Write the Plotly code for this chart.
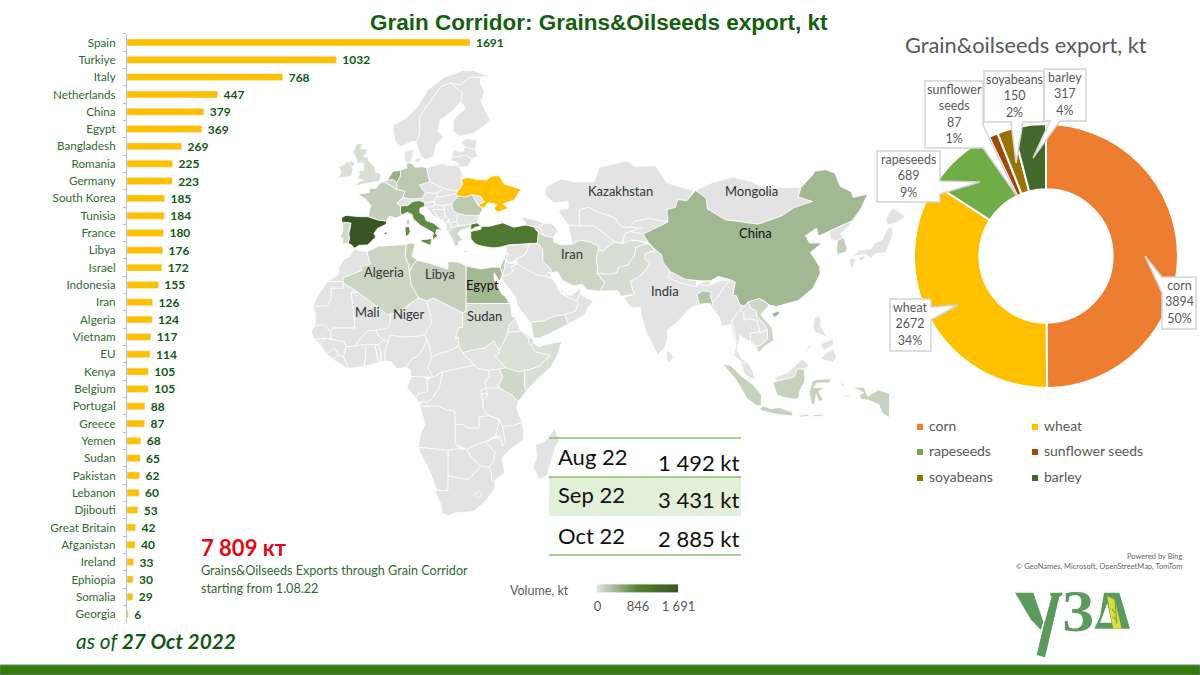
import math
import plotly.graph_objects as go
from plotly.colors import sample_colorscale

# ---- chart data -------------------------------------------------------------
destinations = ["Spain", "Turkiye", "Italy", "Netherlands", "China", "Egypt", "Bangladesh", "Romania",
                "Germany", "South Korea", "Tunisia", "France", "Libya", "Israel", "Indonesia", "Iran",
                "Algeria", "Vietnam", "EU", "Kenya", "Belgium", "Portugal", "Greece", "Yemen", "Sudan",
                "Pakistan", "Lebanon", "Djibouti", "Great Britain", "Afganistan", "Ireland", "Ephiopia",
                "Somalia", "Georgia"]
export_kt = [1691, 1032, 768, 447, 379, 369, 269, 225, 223, 185, 184, 180, 176, 172, 155, 126, 124, 117,
             114, 105, 105, 88, 87, 68, 65, 62, 60, 53, 42, 40, 33, 30, 29, 6]

crops = ["corn", "wheat", "rapeseeds", "sunflower seeds", "soyabeans", "barley"]
crop_kt = [3894, 2672, 689, 87, 150, 317]
crop_colors = ["#ED7D31", "#FFC000", "#70AD47", "#9E480E", "#997300", "#43682B"]

months = ["Aug 22", "Sep 22", "Oct 22"]
month_totals = ["1 492 kt", "3 431 kt", "2 885 kt"]

GREY_LAND = "#E2E3E2"
UKRAINE = "#FFC000"
VOLUME_SCALE = [[0, "#E0E3DD"], [0.5, "#548235"], [1, "#375623"]]

# Country outlines as (lon, lat) rings, one list of rings per country.
land_shapes = {
    "Spain": [[(-9.2,43.1),(-8,43.7),(-4,43.4),(-1.8,43.4),(0.7,42.7),(3.2,42.4),(3.1,41.7),(0.7,40.7),(-0.3,39.5),(0.2,38.7),(-0.7,37.9),(-2,36.8),(-4.4,36.7),(-5.6,36),(-6.4,36.8),(-7.4,37.2),(-7,38.2),(-7.2,39.5),(-6.9,40.3),(-6.6,41.9),(-8.2,42.1),(-8.9,41.9)],
              [(2.4,39.6),(3.2,39.9),(3.3,39.4),(2.8,39.3)]],
    "Portugal": [[(-8.9,41.9),(-8.2,42.1),(-6.6,41.9),(-6.9,40.3),(-7.2,39.5),(-7,38.2),(-7.4,37.2),(-8.9,37),(-8.8,38.4),(-9.5,38.8),(-8.8,40.2)]],
    "France": [[(-1.8,43.4),(-1.2,46),(-2.5,47.3),(-4.7,48.4),(-1.6,48.7),(-1.5,49.7),(0.2,49.6),(1.6,50.9),(2.6,51),(4.2,50.3),(5.8,49.5),(8.2,49),(7.6,47.6),(6,46.4),(7,45.8),(7,44.3),(7.5,43.8),(6,43.1),(3.9,43.5),(3.2,42.4),(0.7,42.7)],
               [(8.6,42.4),(9.4,43),(9.5,42),(9.2,41.4),(8.7,41.7)]],
    "Belgium": [[(2.6,51),(3.4,51.4),(5,51.5),(6,50.8),(6.1,50.1),(5.8,49.5),(4.2,50.3)]],
    "Netherlands": [[(3.4,51.4),(4.5,52.5),(5,53.2),(7,53.4),(7,52.2),(6,50.8),(5,51.5)]],
    "Germany": [[(6,50.8),(7,52.2),(7,53.4),(8.8,53.9),(8.6,54.9),(10,54.8),(11,54),(13,54.1),(14.2,53.9),(14.7,52),(15,51),(12.2,50.3),(13.8,48.7),(13,47.5),(10.2,47.3),(7.6,47.6),(8.2,49),(5.8,49.5),(6.1,50.1)]],
    "Switzerland": [[(6,46.4),(7.6,47.6),(10.2,47.3),(10.4,46.8),(9,45.9),(7,45.8)]],
    "Austria": [[(10.2,47.3),(13,47.5),(13.8,48.7),(17,48.6),(17,47.8),(16.1,46.8),(13.7,46.5),(12.2,47),(10.4,46.8)]],
    "Italy": [[(7,45.8),(9,45.9),(10.4,46.8),(12.2,47),(13.7,46.5),(13.7,45.7),(12.3,45.3),(12.3,44.3),(13.6,43.6),(14,42.5),(16.1,41.9),(18.5,40.2),(17,40.5),(16.6,39.7),(17.1,39),(16,38),(15.8,38.8),(16,39.7),(15,40.2),(12.5,41.4),(10.5,42.9),(10.2,43.9),(8.8,44.4),(7.5,43.8),(7,44.3)],
              [(12.5,38),(15.6,38.3),(15.2,36.7),(12.6,37.6)],
              [(8.2,41),(9.3,41.2),(9.7,40),(9.1,39),(8.4,39)]],
    "Poland": [[(14.2,53.9),(18.5,54.8),(19.8,54.4),(23,54.3),(24,52.5),(23.6,51.5),(24.1,50.5),(22.8,49.1),(19.5,49.4),(18.8,49.6),(15,51),(14.7,52)]],
    "Czechia": [[(12.2,50.3),(15,51),(18.8,49.6),(17,48.6),(13.8,48.7)]],
    "Slovakia": [[(17,48.6),(18.8,49.6),(19.5,49.4),(22.8,49.1),(22,48.4),(18.8,47.9),(17,47.8)]],
    "Hungary": [[(17,47.8),(18.8,47.9),(22,48.4),(22.8,48),(21,46.2),(18.8,45.9),(16.5,46),(16.1,46.8)]],
    "Slovenia": [[(13.7,46.5),(16.1,46.8),(16.5,46),(15.2,45.5),(13.7,45.5)]],
    "Croatia": [[(13.7,45.5),(15.2,45.5),(16.5,46),(18.8,45.9),(19,45),(15.8,45),(17.6,43),(16,43.6),(14.5,45)]],
    "Bosnia": [[(15.8,45),(19,45),(19.3,43.5),(18.5,42.6),(17.6,43)]],
    "Serbia": [[(18.8,45.9),(21,46.2),(21.4,44.8),(22.6,44.2),(22.4,42.4),(20.6,41.9),(20.3,42.9),(19.3,43.5),(19,45)]],
    "Montenegro": [[(18.5,42.6),(19.3,43.5),(20.3,42.9),(19.4,41.9)]],
    "Albania": [[(19.4,41.9),(20.5,42.3),(21,40.7),(20.1,39.7),(19.4,40.5)]],
    "North Macedonia": [[(20.6,41.9),(22.4,42.4),(23,41.3),(21,40.9)]],
    "Greece": [[(20.1,39.7),(21,40.7),(23,41.3),(26.3,41.7),(26,40.8),(23.5,40.3),(22.7,39.5),(24,38),(22.9,37.5),(22.9,36.5),(21.7,36.8),(21.2,38.3)],
               [(23.6,35.5),(26.3,35.2),(24.8,34.9)]],
    "Bulgaria": [[(22.4,42.4),(22.6,44.2),(25,43.7),(28.6,43.7),(28,42),(26.3,41.7),(23,41.3)]],
    "Romania": [[(21,46.2),(22.8,48),(24.9,47.8),(26.6,48.3),(28.2,46),(29.6,45.2),(28.6,43.7),(25,43.7),(22.6,44.2),(21.4,44.8)]],
    "Moldova": [[(26.6,48.3),(29,47.9),(29.9,46.7),(28.2,46)]],
    "Ukraine": [[(22.1,48.4),(22.8,49.1),(24.1,50.5),(23.6,51.5),(25.5,51.9),(28,51.5),(30.5,51.4),(32,52.2),(34,52.3),(35.5,50.5),(38,49.9),(40,49.5),(38.2,47.1),(35,46.3),(36.6,45.3),(33.5,44.4),(32.5,45.4),(33.6,46.1),(31,46.5),(29.7,45.3),(28.2,46),(29.9,46.7),(29,47.9),(26.6,48.3),(24.9,47.8),(22.8,48)]],
    "Lithuania": [[(21,55.3),(21,56),(25,56.4),(26.6,55.7),(25.5,54.2),(23.5,54),(23,54.3),(22.8,54.9)]],
    "Latvia": [[(21,56),(21.6,57.6),(23,57),(24.3,57.2),(24.5,58),(27.5,57.5),(28.1,56.1),(26.6,55.7),(25,56.4)]],
    "Estonia": [[(24.5,58),(23.5,58.9),(25,59.5),(28,59.4),(27.5,57.5)]],
    "Finland": [[(23.5,66),(24.9,65),(21.5,63),(21.4,61),(23,60),(27,60.5),(29.9,61.8),(31.5,62.9),(29.1,66),(30,67.7),(28.9,69.1),(29,70),(26,70),(23.5,68.8),(20.6,69.1),(24,67.5)]],
    "Sweden": [[(11.2,59),(12.7,56),(14.3,55.5),(16,56.2),(16.8,58.5),(18.8,59.8),(17.2,61),(18,63),(21.3,64.5),(23.5,66),(24,67.5),(20.6,69.1),(18,68.5),(15,66),(12.2,63.5),(12.3,61),(12,59.9)]],
    "Norway": [[(5,61),(5.5,59),(7.2,58),(10,59),(11.2,59),(12,59.9),(12.3,61),(12.2,63.5),(15,66),(18,68.5),(20.6,69.1),(23.5,68.8),(26,70),(29,70),(31,70.2),(27,71),(24,71),(19,70),(14.5,68),(12,65.5),(9,63.5),(5,62)]],
    "Denmark": [[(8.1,55.5),(8.2,57),(10.6,57.7),(10.3,56),(9.6,55),(8.6,54.9)], [(11,55.7),(12.5,56),(12.4,55),(11,55)]],
    "Great Britain": [[(-5.5,50),(-3,50.6),(1.3,51.2),(1.7,52.6),(0.2,53),(-0.2,54.2),(-1.5,55),(-2,56),(-3,56.1),(-1.9,57.5),(-4,57.7),(-3.2,58.6),(-5,58.6),(-6,57),(-5,55.5),(-5,54.8),(-3.2,54.9),(-3,53.4),(-4.5,53.3),(-4.2,52.5),(-5,51.8),(-3.2,51.4),(-4.5,51)],
                      [(-7.5,55.2),(-6.2,54),(-5.5,54.5),(-6,55.2)]],
    "Ireland": [[(-10,51.8),(-6.4,52.2),(-6,53.5),(-6.2,54),(-7.5,55.2),(-8.5,54.5),(-10,54),(-9.2,53.2)]],
    "Turkiye": [[(26.2,40),(29,40.5),(29.2,41.2),(31.4,41.2),(35,42),(38,41),(41.5,41.5),(43.5,41.1),(44.8,39.7),(44.5,37.2),(42.4,37.1),(38,36.8),(36.5,36.8),(36.2,36.2),(35.8,36.6),(34,36.2),(32.5,36.1),(30.6,36.3),(28.3,36.7),(27.3,37.2),(26.3,38.3)],
                [(26.3,41.7),(28,42),(29,41.2),(27.5,41),(26.2,40.3)]],
    "Georgia": [[(40,43.4),(43.5,42.7),(46.5,41.9),(45,41.2),(43.5,41.1),(41.5,41.5)]],
    "Armenia": [[(43.5,41.1),(45,41.2),(46.5,39),(44.8,39.7)]],
    "Azerbaijan": [[(45,41.2),(46.5,41.9),(48.5,41.8),(50.3,40.3),(48.8,38.5),(46.5,39)]],
    "Syria": [[(35.8,36.6),(36.5,36.8),(38,36.8),(42.4,37.1),(41.2,34.5),(38.8,33.4),(36.8,32.3),(35.8,33.3),(36.5,34.5),(35.9,35)]],
    "Lebanon": [[(35.1,33.1),(35.9,34.6),(36.5,34.5),(35.8,33.3)]],
    "Israel": [[(34.3,31.3),(35.1,33.1),(35.8,33.3),(35.5,31),(34.9,29.5)]],
    "Jordan": [[(34.95,29.4),(35.5,31),(35.8,32.7),(36.8,32.3),(39,32.1),(37.1,31.3),(38,30.5),(36.1,29.2)]],
    "Iraq": [[(38.8,33.4),(41.2,34.5),(42.4,37.1),(44.5,37.2),(46,35.7),(46,33),(48,31),(48.5,30),(47.6,30),(46.5,29.1),(44.7,29.2),(39,32.1)]],
    "Kuwait": [[(46.6,29.1),(48.4,28.5),(48,30),(47.6,30)]],
    "Saudi Arabia": [[(34.7,29.2),(36.1,29.2),(38,30.5),(37.1,31.3),(39,32.1),(44.7,29.2),(46.5,29.1),(48.4,28.5),(50,26.8),(50.2,25.6),(51.5,24.3),(55.2,22.7),(55.7,22),(55,20),(52,19),(49,18.6),(46,17.3),(43.4,17.2),(42.8,16.5),(41,19),(39,21.5),(38.5,23.7),(36.5,26),(35,28)]],
    "Yemen": [[(42.8,16.5),(43.4,17.2),(46,17.3),(49,18.6),(52,19),(53,16.6),(48,14),(45,12.8),(43.5,12.7),(43.2,14)]],
    "Oman": [[(52,19),(55,20),(55.7,22),(55.2,22.7),(56.3,24.9),(57,23.9),(59.8,22.5),(58,20.5),(57.7,19),(55,17.5),(53,16.6)]],
    "UAE": [[(51.5,24.3),(54,24.2),(56.3,26),(56.3,24.9),(55.2,22.7)]],
    "Qatar": [[(50.8,24.7),(51.3,26.1),(51.6,25)]],
    "Iran": [[(44.8,39.7),(46.5,39),(48.8,38.5),(49,37.5),(51,36.8),(54,37),(56,38),(59,37.5),(61.2,36.6),(61.2,35.6),(60.6,33.5),(61,31.4),(60.9,29.8),(63,27.3),(61.6,25.2),(58,25.6),(56.8,27),(54.5,26.6),(51.5,27.9),(50,30.2),(48.5,30),(48,31),(46,33),(46,35.7),(44.5,37.2)]],
    "Afganistan": [[(61.2,35.6),(60.6,33.5),(61,31.4),(60.9,29.8),(64,29.5),(66.3,29.9),(66.7,31.2),(69.3,31.9),(70.3,33.3),(71.2,34.3),(71.5,36.3),(74.9,37.1),(71.5,37.9),(70,37.9),(67.8,37.2),(65.7,37.5),(64.7,37),(62.5,35.3)]],
    "Pakistan": [[(60.9,29.8),(63,27.3),(61.6,25.2),(66.5,25.4),(67.5,23.9),(71,24.4),(70,27.8),(72.5,29),(74.5,31),(75.3,32.3),(74,33.5),(74,34.7),(77,35.5),(74.9,37.1),(71.5,36.3),(71.2,34.3),(70.3,33.3),(69.3,31.9),(66.7,31.2),(66.3,29.9),(64,29.5)]],
    "India": [[(68.2,23.6),(71,24.4),(70,27.8),(72.5,29),(74.5,31),(75.3,32.3),(74,33.5),(74,34.7),(77,35.5),(78.5,34.5),(79,32.5),(81,30.2),(80.2,28.8),(83.5,27.4),(88.1,26.4),(88.8,27.3),(89.8,26.7),(92,26.8),(94,27.7),(97.3,28.2),(95.5,26),(94,23.8),(92.5,22),(91.8,24.3),(92.2,25),(89.8,25.3),(88.2,24.4),(88.9,21.7),(86.9,21),(85,19.4),(82.3,16.5),(80.2,15),(80.2,13),(79.5,10.3),(77.5,8.1),(76,11),(74.5,14),(73,18.5),(72.8,21),(72,21),(70.5,20.8),(69,22.3)]],
    "Bangladesh": [[(88.2,24.4),(89.8,25.3),(92.2,25),(91.8,24.3),(92.5,22),(92.2,21),(91.9,22),(90.3,22),(88.9,21.7)]],
    "Nepal": [[(80.2,28.8),(81,30.2),(85,28.3),(88.1,27.9),(88.1,26.4),(83.5,27.4)]],
    "Bhutan": [[(88.8,27.3),(91.5,28),(92,26.8),(89.8,26.7)]],
    "Sri Lanka": [[(80,9.7),(81.8,7.5),(80.6,5.9),(79.8,7)]],
    "Kazakhstan": [[(46.5,48.4),(47,50),(51,51.6),(54.5,51),(60,51),(61.5,54),(69,55.3),(71,54.2),(76.8,54.3),(80,50.8),(87.3,49.1),(85.5,47),(83,47.2),(82.3,45.5),(80,45),(80.3,42.2),(75,43),(71,42.3),(70,41),(68,41),(66.5,41.9),(66,43),(61,44.5),(58.5,45.5),(56,45),(56,41.3),(53,41.5),(52.5,42),(50.3,44.5),(51,45),(53,45.3),(53,46.8),(49,46.5)]],
    "Uzbekistan": [[(56,45),(58.5,45.5),(61,44.5),(66,43),(66.5,41.9),(68,41),(70,41),(73,40.8),(70,40),(68.5,39.5),(67.8,37.2),(65.7,37.5),(62,40),(60,41.3),(56,41.3)]],
    "Turkmenistan": [[(53,41.5),(56,41.3),(60,41.3),(62,40),(65.7,37.5),(64.7,37),(62.5,35.3),(61.2,35.6),(61.2,36.6),(59,37.5),(56,38),(54,37),(53.5,39.5)]],
    "Tajikistan": [[(67.8,37.2),(70,37.9),(71.5,37.9),(74.9,37.4),(73.5,39.4),(70,40),(68.5,39.5)]],
    "Kyrgyzstan": [[(70,40),(73.5,39.4),(76,40.4),(80.3,42.2),(75,43),(71,42.3),(70,41),(73,40.8)]],
    "Mongolia": [[(87.8,49.2),(92,50.7),(98,52),(102,51.3),(107,49.8),(113,49.8),(116.7,49.8),(116,47.8),(119.9,46.8),(115,45.5),(111.5,43.6),(105,41.7),(96,42.7),(91,45.2),(90.8,47.5)]],
    "China": [[(73.5,39.4),(76,40.4),(80.3,42.2),(80,45),(82.3,45.5),(83,47.2),(85.5,47),(87.8,49.2),(90.8,47.5),(91,45.2),(96,42.7),(105,41.7),(111.5,43.6),(115,45.5),(119.9,46.8),(116,47.8),(116.7,49.8),(120,52.5),(120.5,53.2),(123.5,53.5),(126,52.8),(127.5,50),(130.5,48.9),(131,47.7),(135,48.4),(133,45),(131,43),(130.6,42.4),(128,41.4),(124.4,40),(121.5,38.9),(121,40.8),(118,39),(119,37.3),(122.5,37.2),(119.3,35),(121.8,31.5),(122,29.8),(120,26),(116,22.8),(113.5,22.2),(110,21.2),(108,21.6),(106.7,22.6),(105.3,23.3),(102.2,22.4),(101.5,21.2),(100,21.6),(99,24),(98,24),(98.7,27.5),(97.3,28.2),(94,29),(92,27.9),(88.8,27.9),(85,28.3),(81,30.2),(79,32.5),(78.5,34.5),(77,35.5),(74.9,37.4)],
              [(108.7,19.3),(110.5,20.1),(110.9,19.4),(109.5,18.2)]],
    "North Korea": [[(124.4,40),(128,41.4),(130.6,42.4),(129.7,41),(127.5,39.5),(128.4,38.6),(126.7,37.8),(125,38)]],
    "South Korea": [[(126.7,37.8),(128.4,38.6),(129.4,36),(129,35.1),(126.5,34.4),(126.5,36.5)]],
    "Japan": [[(131,34),(132.5,35.5),(136,35.8),(137,37.3),(139,38),(140,40),(141.4,41.3),(142,39.5),(140.9,37),(140,35),(137,34.6),(135.7,33.5),(134.5,34.6)],
              [(130,33.5),(131.7,33.5),(131,31.2),(130.2,31.4)],
              [(132.5,33.8),(134.5,34.2),(134,33.3),(132.8,32.8)],
              [(140.2,41.5),(140,43),(141.8,45.4),(145.3,43.5),(143,42)]],
    "Myanmar": [[(92.2,21),(92.5,22),(94,23.8),(95.5,26),(97.3,28.2),(98.7,27.5),(98,24),(99,24),(100,21.6),(101,21.3),(100,20.2),(97.8,17.5),(98.5,15),(99,11),(98.7,11),(97.6,16.5),(95,15.8),(94.3,18.5)]],
    "Thailand": [[(97.8,17.5),(100,20.2),(101,19.5),(101.2,17.6),(102.5,18),(104.7,17.5),(105.5,14.5),(102.8,14),(102.9,11.7),(101,12.7),(100,13.5),(99.2,9.5),(100.5,7),(102,6.2),(101,5.7),(100,6.5),(98.3,8),(99,11),(98.5,15)]],
    "Laos": [[(100,20.2),(101,21.3),(102.2,22.4),(103,20.8),(104.5,20),(104.7,18.5),(106.7,16.5),(107.5,15),(105.5,14),(105.5,14.5),(104.7,17.5),(102.5,18),(101.2,17.6),(101,19.5)]],
    "Vietnam": [[(102.2,22.4),(105.3,23.3),(106.7,22.6),(108,21.6),(105.7,19),(108.8,15.5),(109.3,12),(106.7,10.4),(105,8.7),(104.5,10.4),(106,11),(107.5,12.5),(107.5,15),(106.7,16.5),(104.7,18.5),(104.5,20),(103,20.8)]],
    "Cambodia": [[(102.9,11.7),(102.8,14),(105.5,14.5),(105.5,14),(107.5,15),(107.5,12.5),(106,11),(104.5,10.4)]],
    "Malaysia": [[(100,6.5),(101,5.7),(102,6.2),(103.4,4),(104.2,1.4),(103,1.6),(101.2,3),(100.4,5)],
                 [(109.6,2),(111.3,2.5),(113,3.2),(115,5),(117,7),(119,5.2),(117.6,4.2),(115.8,4.3),(114.8,2),(112.5,1.5),(110,0.9)]],
    "Indonesia": [[(95.3,5.6),(97.5,5.2),(100.5,2.2),(103.5,0),(106,-3),(105.8,-5.8),(104.5,-5.8),(102,-4),(100.3,-1),(98.6,1.7)],
                  [(105.2,-6.8),(106.5,-6),(108.5,-6.7),(110.8,-6.4),(114.4,-7.7),(114.5,-8.7),(110,-8.2),(106.4,-7.4)],
                  [(109,0.5),(110,0.9),(112.5,1.5),(114.8,2),(115.8,4.3),(117.6,4.2),(117.8,1),(116.5,-1.5),(116,-3.8),(114.6,-4.1),(111.8,-3.5),(110.2,-2.9)],
                  [(119.8,0.8),(120.8,1.3),(125,1.6),(124.3,0.4),(121,0.4),(120.2,-0.9),(123.3,-0.9),(121.5,-1.9),(122.9,-4.4),(121.6,-4.7),(120.9,-2.7),(120.4,-5.6),(119.5,-5.4),(119.4,-3.4),(118.9,-2.7)],
                  [(131,-0.8),(134,-0.8),(135,-3.3),(137.9,-1.5),(141,-2.6),(141,-9.1),(139,-8),(138,-5.5),(135.2,-4.4),(133,-4),(132.8,-2.8),(134,-2.3)],
                  [(127.5,1.8),(128.5,-0.5),(127.9,-0.3)],
                  [(116,-8.5),(119,-8.3),(119,-8.7),(116.5,-9)],
                  [(120,-8.4),(123,-8.3),(122.7,-8.7),(120,-8.9)],
                  [(123.6,-10.3),(127,-8.4),(125,-9.5)],
                  [(128,-3),(130.8,-3.2),(129,-3.5)]],
    "Philippines": [[(120.5,18.5),(122.2,18.4),(122,16),(124,13),(122,13.8),(120.3,14.5),(120,16)],
                    [(122,7),(123.5,8.6),(125.5,9.8),(126.5,7.5),(125.5,6),(124,6.5)],
                    [(122,11),(123,11.5),(125.5,12.5),(125.7,11),(124,10),(123,9.5)],
                    [(117.3,8.4),(119.5,11.3),(119.5,10.5),(117.5,8.3)]],
    "Morocco": [[(-5.9,35.8),(-2.2,35.1),(-1.7,33.5),(-1.2,32.1),(-3.8,31.5),(-3.6,30.5),(-8.7,28.7),(-8.7,27.7),(-13,27.7),(-10,29.5),(-9.8,31.5),(-8.5,33.3),(-6.8,34)]],
    "Western Sahara": [[(-13,27.7),(-8.7,27.7),(-8.7,26),(-12,26),(-12,23.5),(-13,21.3),(-17,21.3),(-16,23.5)]],
    "Algeria": [[(-2.2,35.1),(1,36.5),(8.6,36.9),(8.3,34),(9.2,32.1),(9.5,30.2),(9.9,27),(12,23.5),(6,19.4),(3.3,19),(1.2,20.7),(-4.8,25),(-8.7,27.3),(-8.7,28.7),(-3.6,30.5),(-3.8,31.5),(-1.2,32.1),(-1.7,33.5)]],
    "Tunisia": [[(8.6,36.9),(9.9,37.3),(11,37),(10.5,35.5),(10.2,34),(11.5,33.1),(10.3,31.7),(9.5,30.2),(9.2,32.1),(8.3,34)]],
    "Libya": [[(11.5,33.1),(15,32.3),(20,30.8),(20,32.7),(23,32.6),(25,31.6),(25,22),(25,20),(24,19.5),(16,23.4),(14.2,22.6),(12,23.5),(9.9,27),(9.5,30.2),(10.3,31.7)]],
    "Egypt": [[(25,31.6),(29,30.9),(32,31.3),(34.3,31.3),(34.9,29.5),(34.2,27.8),(32.6,29.9),(32.7,28),(34.9,24.3),(35.6,23.9),(36.9,22),(25,22)]],
    "Sudan": [[(25,22),(36.9,22),(37.3,20.8),(37.5,18.7),(38.6,18),(36.9,16.5),(36.4,14.3),(35,11),(34,9.5),(33,11),(32.7,12),(30,10),(27,9.5),(24,8.7),(23,10.7),(22.8,13),(22,12.7),(22.9,15.5),(24,15.7),(24,19.5),(25,20)]],
    "South Sudan": [[(24,8.7),(27,9.5),(30,10),(32.7,12),(33,11),(34,9.5),(34,8.5),(33,7.8),(35.9,4.6),(34,4.2),(31,3.8),(28,4.5),(27.3,5.3),(25,7.5)]],
    "Eritrea": [[(36.4,14.3),(36.9,16.5),(38.6,18),(39.7,15),(43,12.8),(42,13),(40,14.5),(38.2,14.5),(37.5,14.3)]],
    "Ephiopia": [[(34,9.5),(35,11),(36.4,14.3),(37.5,14.3),(38.2,14.5),(40,14.5),(42,13),(42.2,11.5),(42.8,10.9),(44,9),(47.9,8),(45,5),(42,4),(41,3.9),(39.5,3.4),(35.9,4.6),(33,7.8),(34,8.5)]],
    "Djibouti": [[(42,13),(43.2,12.5),(43.4,11.5),(42.8,10.9),(42.2,11.5)]],
    "Somalia": [[(43.4,11.5),(44.8,10.4),(48,11.2),(51.2,11.9),(50,8),(48,4.5),(45,2),(41.6,-1.7),(41,-0.9),(41,3.9),(42,4),(45,5),(47.9,8),(44,9),(42.8,10.9)]],
    "Kenya": [[(34,4.2),(35.9,4.6),(39.5,3.4),(41,3.9),(41,-0.9),(41.6,-1.7),(39.3,-4.7),(37.7,-3.1),(34,-1),(33.9,0.1),(35,1.9)]],
    "Uganda": [[(31,3.8),(34,4.2),(35,1.9),(33.9,0.1),(34,-1),(30.5,-1),(30,0.5),(31.3,2.2)]],
    "Rwanda": [[(29,-1.5),(30.5,-1),(30.8,-2.5),(29,-2.7)]],
    "Burundi": [[(29,-2.7),(30.8,-2.5),(30.7,-3.4),(29.5,-4.4)]],
    "Tanzania": [[(30.5,-1),(34,-1),(37.7,-3.1),(39.3,-4.7),(38.8,-6.5),(39.5,-8.5),(40.4,-10.4),(38,-11.3),(34.9,-11.6),(33.9,-9.5),(31,-8.6),(29.6,-6.5),(29.5,-4.4),(30.7,-3.4),(30.8,-2.5)]],
    "Mozambique": [[(40.4,-10.4),(40.8,-15),(37,-17.8),(34.8,-20),(35.5,-24),(32.9,-25.9),(32.9,-26.8),(32,-25.9),(31.9,-24),(31.3,-22.4),(32.5,-21),(32.9,-18.5),(30.3,-15.7),(33,-14.7),(34.4,-14.6),(35,-16.8),(35.8,-15.9),(34.9,-11.6),(38,-11.3)]],
    "Malawi": [[(33.9,-9.5),(34.9,-11.6),(35.8,-15.9),(35,-16.8),(34.4,-14.6),(33,-14),(33.7,-11.5)]],
    "Zambia": [[(22,-11),(24,-11),(25.5,-12),(28.5,-12),(28.5,-9),(31,-8.6),(33.9,-9.5),(33.7,-11.5),(33,-14),(30.3,-15.7),(28,-16.3),(25.2,-17.8),(22,-16.2),(22,-13)]],
    "DR Congo": [[(12.2,-6),(13.1,-4.6),(14.5,-5),(16,-3.5),(17.7,-0.5),(18.5,3.5),(22,4.2),(27.3,5.3),(28,4.5),(31,3.8),(31.3,2.2),(30,0.5),(30.5,-1),(29,-1.5),(29,-2.7),(29.5,-4.4),(29.6,-6.5),(31,-8.6),(28.5,-9),(28.5,-12),(25.5,-12),(24,-11),(22,-11),(21.8,-7.3),(19.5,-7),(17.5,-6)]],
    "Angola": [[(12.2,-6),(17.5,-6),(19.5,-7),(21.8,-7.3),(22,-11),(22,-16.2),(23.3,-17.6),(20,-18),(13.7,-17.4),(11.8,-17.3),(12.5,-13.5),(13.8,-10.8),(13,-8.5)]],
    "Zimbabwe": [[(25.2,-17.8),(28,-16.3),(30.3,-15.7),(32.9,-18.5),(32.5,-21),(31.3,-22.4),(29,-22.2),(26,-19.5)]],
    "Botswana": [[(20,-18),(23.3,-17.6),(25.2,-17.8),(26,-19.5),(29,-22.2),(26.9,-24.4),(25.5,-25.7),(23,-25.3),(20,-24.8),(20,-22)]],
    "Namibia": [[(11.8,-17.3),(13.7,-17.4),(20,-18),(20,-22),(20,-28.5),(17,-28.5),(14.5,-22.5)]],
    "South Africa": [[(16.5,-28.6),(17,-28.5),(20,-28.5),(20,-24.8),(23,-25.3),(25.5,-25.7),(26.9,-24.4),(29,-22.2),(31.3,-22.4),(31.9,-24),(32,-25.9),(32.9,-26.8),(32.5,-28.5),(30,-31.5),(27,-33.8),(22,-34.1),(20,-34.8),(18.4,-34.2),(18,-32),(17,-29.5)]],
    "Lesotho": [[(27,-29.6),(28.6,-28.6),(29.4,-29.6),(28,-30.6)]],
    "Madagascar": [[(49.3,-12),(50.5,-15.5),(49.5,-17),(47,-24.9),(45,-25.6),(43.3,-22.5),(44.4,-20),(44,-16.5),(46.5,-15.7)]],
    "Congo": [[(11.2,-3.9),(12.2,-5),(13.1,-4.6),(14.5,-5),(16,-3.5),(17.7,-0.5),(18.5,3.5),(16,2),(14.2,1.4),(14.4,-2),(12,-2.5)]],
    "Gabon": [[(8.7,-0.7),(9.6,1),(9.9,2.2),(13.3,2.2),(14.2,1.4),(14.4,-2),(12,-2.5),(11.2,-3.9)]],
    "Cameroon": [[(8.5,4.7),(9.7,3.9),(9.9,2.2),(13.3,2.2),(16,2),(14.5,4.5),(15.5,7.5),(15,10),(14.2,12.5),(13.8,11),(12,8),(10,7)]],
    "Central African Republic": [[(14.5,4.5),(16,2),(18.5,3.5),(22,4.2),(27.3,5.3),(25,7.5),(24,8.7),(23,10.7),(20,9),(18.8,8.9),(15.5,7.5)]],
    "Chad": [[(13.6,13.7),(14.2,12.5),(15,10),(15.5,7.5),(18.8,8.9),(20,9),(23,10.7),(22.8,13),(22,12.7),(22.9,15.5),(24,15.7),(24,19.5),(16,23.4),(14.2,22.6),(15,19.5),(15.5,16.9)]],
    "Niger": [[(3.3,19),(6,19.4),(12,23.5),(14.2,22.6),(15,19.5),(15.5,16.9),(13.6,13.7),(12,13.3),(8.5,13),(4.1,13.5),(3.6,11.7),(2.4,12.3),(1,13.3),(0.2,14.9),(3.5,15.4),(4.2,16.8),(4.2,19)]],
    "Nigeria": [[(2.7,6.4),(4.4,6.3),(6,4.3),(8.5,4.7),(10,7),(12,8),(13.8,11),(14.2,12.5),(13.6,13.7),(12,13.3),(8.5,13),(4.1,13.5),(3.6,11.7),(2.7,9)]],
    "Benin": [[(1.6,6.2),(2.7,6.4),(2.7,9),(3.6,11.7),(2.4,12.3),(0.9,11),(1.6,9)]],
    "Togo": [[(1,6),(1.6,6.2),(1.6,9),(0.9,11),(0,11),(0.5,8)]],
    "Ghana": [[(-3,5),(1,6),(0.5,8),(0,11),(-2.8,11),(-2.5,8)]],
    "Burkina Faso": [[(-5.5,10.5),(-2.8,11),(0,11),(0.9,11),(2.4,12.3),(1,13.3),(0.2,14.9),(-2,14.7),(-4.5,12)]],
    "Ivory Coast": [[(-7.5,4.4),(-3,5),(-2.5,8),(-2.8,11),(-5.5,10.5),(-8,10.4),(-8.6,7.5),(-7.5,5)]],
    "Liberia": [[(-11.5,6.9),(-7.5,4.4),(-7.5,5),(-8.6,7.5),(-10,8.3)]],
    "Sierra Leone": [[(-13.3,8.5),(-11.5,6.9),(-10,8.3),(-11,10)]],
    "Guinea": [[(-15,11),(-13.3,8.5),(-11,10),(-10,8.3),(-8.6,7.5),(-8,10.4),(-8.3,11.8),(-10,12),(-12,12.4),(-13.7,12.7)]],
    "Guinea-Bissau": [[(-16.7,12.4),(-15,11),(-13.7,12.7)]],
    "Senegal": [[(-17.5,14.7),(-16.7,12.4),(-13.7,12.7),(-12,12.4),(-12.2,14.7),(-14.3,16.5),(-16.5,16)]],
    "Mali": [[(-12.2,14.7),(-12,12.4),(-10,12),(-8.3,11.8),(-8,10.4),(-5.5,10.5),(-4.5,12),(-2,14.7),(0.2,14.9),(3.5,15.4),(4.2,16.8),(4.2,19),(3.3,19),(1.2,20.7),(-4.8,25),(-6.5,25),(-5.5,15.5),(-9.3,15.5),(-11.5,15.5)]],
    "Mauritania": [[(-16.5,16),(-14.3,16.5),(-12.2,14.7),(-11.5,15.5),(-9.3,15.5),(-5.5,15.5),(-6.5,25),(-4.8,25),(-8.7,27.3),(-8.7,26),(-12,26),(-12,23.5),(-13,21.3),(-17,21.3),(-16.2,19)]],
}

map_labels = [("Kazakhstan", 620, 191), ("Mongolia", 751, 191), ("China", 755, 233), ("Iran", 572, 254),
              ("India", 665, 291), ("Algeria", 384, 272), ("Libya", 440, 274), ("Egypt", 482, 285),
              ("Mali", 367, 312), ("Niger", 408, 314), ("Sudan", 484, 316)]

# ---- page geometry helpers ---------------------------------------------------
W, H = 1200, 675
BODY_FONT = "Lato, Carlito, sans-serif"


def px(x):
    return x / W


def py(y):
    return 1 - y / H


def miller(lat):
    """Miller cylindrical ordinate, in degrees."""
    phi = math.radians(lat)
    return math.degrees(1.25 * math.log(math.tan(math.pi / 4 + 0.4 * phi)))


def path(points):
    return "M " + " L ".join(f"{px(x):.5f},{py(y):.5f}" for x, y in points) + " Z"


def text(label, x, y, size, color, anchor="left", family=BODY_FONT):
    return dict(text=label, x=px(x), y=py(y), xref="paper", yref="paper", xanchor=anchor, yanchor="middle",
                showarrow=False, font=dict(size=size, color=color, family=family), align=anchor, borderpad=0)


# The map axes span the whole page so that a degree of longitude is 3.65 px.
LON_PER_PX = 1 / 3.65
MILLER_PER_PX = 1 / 3.62
lon_range = [-9.3 - 341 * LON_PER_PX, -9.3 + (W - 341) * LON_PER_PX]
miller_range = [46.8 - (H - 215) * MILLER_PER_PX, 46.8 + 215 * MILLER_PER_PX]

volume_by_country = dict(zip(destinations, export_kt))
VMAX = max(export_kt)

fig = go.Figure()

# Countries, filled from the exported volume.
for country, rings in land_shapes.items():
    lons, lats = [], []
    for ring in rings:
        lons += [p[0] for p in ring] + [ring[0][0], None]
        lats += [miller(p[1]) for p in ring] + [miller(ring[0][1]), None]
    if country == "Ukraine":
        fill = UKRAINE
    elif country in volume_by_country:
        fill = sample_colorscale(VOLUME_SCALE, volume_by_country[country] / VMAX)[0]
    else:
        fill = GREY_LAND
    fig.add_trace(go.Scatter(x=lons, y=lats, mode="lines", fill="toself", fillcolor=fill,
                             line=dict(color="#FFFFFF", width=0.8), name=country, hoverinfo="name",
                             showlegend=False, xaxis="x", yaxis="y"))

# Carrier for the volume colour bar.
fig.add_trace(go.Scatter(x=[lon_range[0], lon_range[0]], y=[miller_range[0], miller_range[0]], mode="markers",
                         marker=dict(size=1, opacity=0, color=[0, VMAX], cmin=0, cmax=VMAX,
                                     colorscale=VOLUME_SCALE, showscale=True,
                                     colorbar=dict(orientation="h", x=px(638), xanchor="center", y=py(615),
                                                   yanchor="bottom", len=81, lenmode="pixels", thickness=8,
                                                   outlinewidth=0, xpad=0, ypad=0,
                                                   tickvals=[0, 846, VMAX], ticktext=["0", "846", "1 691"],
                                                   ticks="outside", ticklen=4, tickcolor="rgba(255,255,255,0)",
                                                   tickfont=dict(family=BODY_FONT, size=13, color="#595959"))),
                         showlegend=False, hoverinfo="skip", xaxis="x", yaxis="y"))

# Destination bars.
fig.add_trace(go.Bar(y=destinations, x=export_kt, orientation="h", marker=dict(color="#FFC000"), width=0.4,
                     text=[f"\u00a0{v}" for v in export_kt], textposition="outside", cliponaxis=False,
                     constraintext="none", textangle=0,
                     textfont=dict(family=BODY_FONT, size=12, color="#0F5A12", weight="bold"),
                     showlegend=False, xaxis="x2", yaxis="y2"))

# Crop split.
fig.add_trace(go.Pie(labels=crops, values=crop_kt, hole=0.505, sort=False, direction="clockwise", rotation=0,
                     marker=dict(colors=crop_colors, line=dict(color="#FFFFFF", width=2)), textinfo="none",
                     showlegend=False, domain=dict(x=[px(914), px(1178)], y=[py(388), py(124)])))

annotations = []
shapes = []

annotations.append(text("<b>Grain Corridor: Grains&Oilseeds export, kt</b>", 599, 22, 22.5, "#14600F", "center",
                        family="Liberation Sans"))
annotations.append(text("Grain&oilseeds export, kt", 1026, 45, 21.8, "#595959", "center"))

# Callouts around the crop ring: outline including its pointer, then its text.
crop_total = sum(crop_kt)
callouts = {
    "corn": dict(box=(1162, 1196, 277, 329), outline=[(1162, 277), (1145, 256), (1162, 293), (1162, 329), (1196, 329), (1196, 277)]),
    "wheat": dict(box=(890, 931, 299, 351), outline=[(890, 299), (931, 299), (931, 307), (958, 305), (931, 320), (931, 351), (890, 351)]),
    "rapeseeds": dict(box=(877, 940, 151, 202), outline=[(877, 151), (940, 151), (940, 181), (980, 182), (940, 194), (940, 202), (877, 202)]),
    "sunflower seeds": dict(box=(925, 983, 81, 148), outline=[(925, 81), (983, 81), (983, 125), (1017, 196), (983, 148), (925, 148)]),
    "soyabeans": dict(box=(984, 1044, 71, 122), outline=[(984, 71), (1044, 71), (1044, 122), (1023, 122), (1016, 163), (1011, 122), (984, 122)]),
    "barley": dict(box=(1044, 1086, 69, 121), outline=[(1044, 69), (1086, 69), (1086, 121), (1060, 121), (1033, 158), (1050, 121), (1044, 121)]),
}
for crop, value in zip(crops, crop_kt):
    spec = callouts[crop]
    shapes.append(dict(type="path", xref="paper", yref="paper", path=path(spec["outline"]), fillcolor="#FFFFFF",
                       line=dict(color="#D4D4D4", width=1.5), layer="above"))
    x0, x1, y0, y1 = spec["box"]
    name = crop.replace(" ", "<br>")
    annotations.append(text(f"{name}<br>{value}<br>{round(value / crop_total * 100)}%", (x0 + x1) / 2,
                            (y0 + y1) / 2 - 1, 12.5, "#595959", "center"))

# Crop key.
key_cells = [(920, 427), (1035, 427), (920, 452), (1035, 452), (920, 478), (1035, 478)]
for crop, color, (kx, ky) in zip(crops, crop_colors, key_cells):
    shapes.append(dict(type="rect", xref="paper", yref="paper", x0=px(kx - 3), x1=px(kx + 3), y0=py(ky + 3), y1=py(ky - 3),
                       fillcolor=color, line_width=0, layer="above"))
    annotations.append(text(crop, kx + 8, ky - 1.5, 14, "#595959"))

# Monthly table.
shapes.append(dict(type="rect", xref="paper", yref="paper", x0=px(549), x1=px(741), y0=py(516), y1=py(477),
                   fillcolor="#E2EFD9", line_width=0, layer="below"))
for rule_y in (438, 477, 555):
    shapes.append(dict(type="line", xref="paper", yref="paper", x0=px(549), x1=px(741), y0=py(rule_y), y1=py(rule_y),
                       line=dict(color="#8DBB6E", width=1.5)))
for month, total, (my, ty) in zip(months, month_totals, [(457, 462), (495, 499), (535, 538)]):
    annotations.append(text(month, 557, my, 22, "#111111"))
    annotations.append(text(total, 740, ty, 22, "#111111", "right"))

# Notes under the bars.
annotations.append(text("<b>7 809 кт</b>", 200, 547, 22, "#E30613"))
annotations.append(text("Grains&Oilseeds Exports through Grain Corridor", 200, 570, 12.6, "#2F6B2F"))
annotations.append(text("starting from 1.08.22", 200, 588, 12.6, "#2F6B2F"))
annotations.append(text("<i>as of <b>27 Oct 2022</b></i>", 75, 640, 20.8, "#0F5A12"))

# Map text.
for label, lx, ly in map_labels:
    annotations.append(text(label, lx, ly, 13, "#111111" if label in ("China", "Egypt") else "#333333", "center"))
annotations.append(text("Volume, kt", 509, 590, 12.5, "#595959"))
annotations.append(text("Powered by Bing", 1183, 556, 7.5, "#666666", "right"))
annotations.append(text("© GeoNames, Microsoft, OpenStreetMap, TomTom", 1183, 566, 7.5, "#666666", "right"))

# Logo.
LOGO_GREEN = "#5B9A5D"


def logo_pt(zx, zy):
    return (1000 + zx / 3, 580 + zy / 3)


logo_parts = [
    ([(45, 38), (100, 38), (130, 125), (122, 150), (92, 118)], LOGO_GREEN),
    ([(152, 38), (187, 38), (187, 45), (178, 50), (135, 232), (110, 225), (130, 140), (155, 50), (150, 45)], LOGO_GREEN),
    ([(283, 146), (300, 110), (312, 38), (358, 38), (390, 146), (283, 146)], LOGO_GREEN),
    ([(300, 128), (335, 128), (322, 70)], "#FFFFFF"),
    ([(322, 48), (345, 60), (365, 146), (340, 146), (330, 100)], "#DDDD3C"),
]
for pts, color in logo_parts:
    shapes.append(dict(type="path", xref="paper", yref="paper", path=path([logo_pt(*p) for p in pts]),
                       fillcolor=color, line_width=0, layer="above"))
for a, b in [((335, 85), (345, 100)), ((338, 110), (352, 122)), ((345, 60), (350, 130))]:
    ax, ay = logo_pt(*a)
    bx, by = logo_pt(*b)
    shapes.append(dict(type="line", xref="paper", yref="paper", x0=px(ax), y0=py(ay), x1=px(bx), y1=py(by),
                       line=dict(color=LOGO_GREEN, width=1), layer="above"))
annotations.append(text("<b>З</b>", 1078, 611, 60, LOGO_GREEN, "center", family="Liberation Serif"))

# Footer band.
shapes.append(dict(type="rect", xref="paper", yref="paper", x0=0, x1=1, y0=0, y1=py(665), fillcolor="#357D0B",
                   line=dict(color="#587F8A", width=1)))

fig.update_layout(
    width=W, height=H, margin=dict(l=0, r=0, t=0, b=0), paper_bgcolor="#FFFFFF", plot_bgcolor="rgba(0,0,0,0)",
    showlegend=False, shapes=shapes, annotations=annotations,
    xaxis=dict(domain=[0, 1], range=lon_range, visible=False, fixedrange=True),
    yaxis=dict(domain=[0, 1], range=miller_range, visible=False, fixedrange=True),
    xaxis2=dict(domain=[px(127), px(127 + 2000 * 343 / 1691)], range=[0, 2000], visible=False, anchor="y2", fixedrange=True),
    yaxis2=dict(domain=[py(622.7), py(33.8)], anchor="x2", autorange="reversed", type="category",
                categoryorder="array", categoryarray=destinations, showline=True, linecolor="#BFBFBF", linewidth=1,
                ticks="outside", ticklen=3, tickcolor="#BFBFBF", tickson="boundaries", showgrid=False, zeroline=False,
                ticklabelstandoff=8, tickfont=dict(family=BODY_FONT, size=11.7, color="#2F6B2F"), fixedrange=True),
    bargap=0.6,
)

fig.write_html("out.html")
